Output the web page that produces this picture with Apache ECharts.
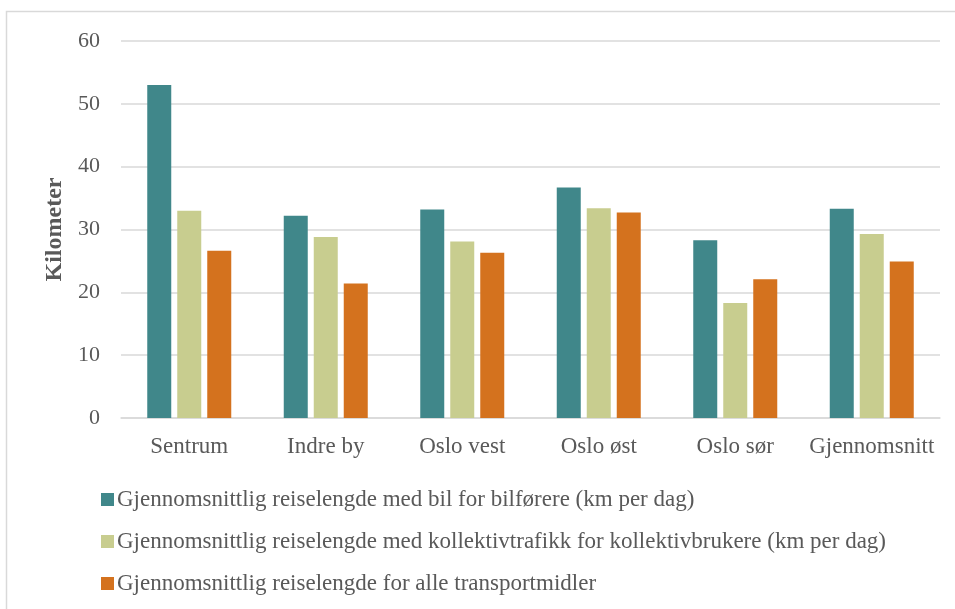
<!DOCTYPE html>
<html>
<head>
<meta charset="utf-8">
<script src="https://cdn.jsdelivr.net/npm/echarts@6/dist/echarts.min.js"></script>
<style>html,body{margin:0;padding:0;background:#fff}#c{width:955px;height:609px}</style>
</head>
<body>
<div id="c"></div>
<script>
const categories = ['Sentrum', 'Indre by', 'Oslo vest', 'Oslo øst', 'Oslo sør', 'Gjennomsnitt'];
const seriesNames = [
  'Gjennomsnittlig reiselengde med bil for bilførere (km per dag)',
  'Gjennomsnittlig reiselengde med kollektivtrafikk for kollektivbrukere (km per dag)',
  'Gjennomsnittlig reiselengde for alle transportmidler'
];
const bilValues = [53.0, 32.2, 33.2, 36.7, 28.3, 33.3];
const kollektivValues = [33.0, 28.8, 28.1, 33.4, 18.3, 29.3];
const alleValues = [26.6, 21.4, 26.3, 32.7, 22.1, 24.9];
const colors = ['#40878a', '#c8cd8f', '#d4721e'];

const FONT = '"Liberation Serif", "DejaVu Serif", serif';
const TXT = '#595959';
const chart = echarts.init(document.getElementById('c'), null, {renderer: 'canvas'});
const dataSets = [bilValues, kollektivValues, alleValues];
chart.setOption({
  animation: false,
  color: colors,
  graphic: [{
    type: 'rect', silent: true,
    shape: {x: 6.5, y: 11.5, width: 970, height: 640},
    style: {fill: 'none', stroke: '#d9d9d9', lineWidth: 1.5}
  }],
  grid: {left: 121, right: 15, top: 41, bottom: 191},
  legend: {
    orient: 'vertical', left: 96, top: 483, height: 124,
    itemWidth: 13, itemHeight: 13, itemGap: 19,
    icon: 'rect',
    textStyle: {fontFamily: FONT, fontSize: 23, color: TXT, padding: [0, 0, 0, -2]},
    data: seriesNames
  },
  xAxis: {
    type: 'category', data: categories,
    axisLine: {lineStyle: {color: '#d9d9d9', width: 1.5}},
    axisTick: {show: false},
    axisLabel: {fontFamily: FONT, fontSize: 23, color: TXT, margin: 17, interval: 0}
  },
  yAxis: {
    type: 'value', min: 0, max: 60, interval: 10,
    name: 'Kilometer', nameLocation: 'middle', nameGap: 49,
    nameTextStyle: {fontFamily: FONT, fontSize: 24, fontWeight: 'bold', color: TXT},
    axisLine: {show: false}, axisTick: {show: false},
    axisLabel: {fontFamily: FONT, fontSize: 22, color: TXT, margin: 21},
    splitLine: {lineStyle: {color: '#d9d9d9', width: 1.5}}
  },
  series: seriesNames.map((n, i) => ({
    name: n, type: 'bar', data: dataSets[i],
    barWidth: 24, barGap: '25%',
    itemStyle: {color: colors[i]}
  }))
});
</script>
</body>
</html>
